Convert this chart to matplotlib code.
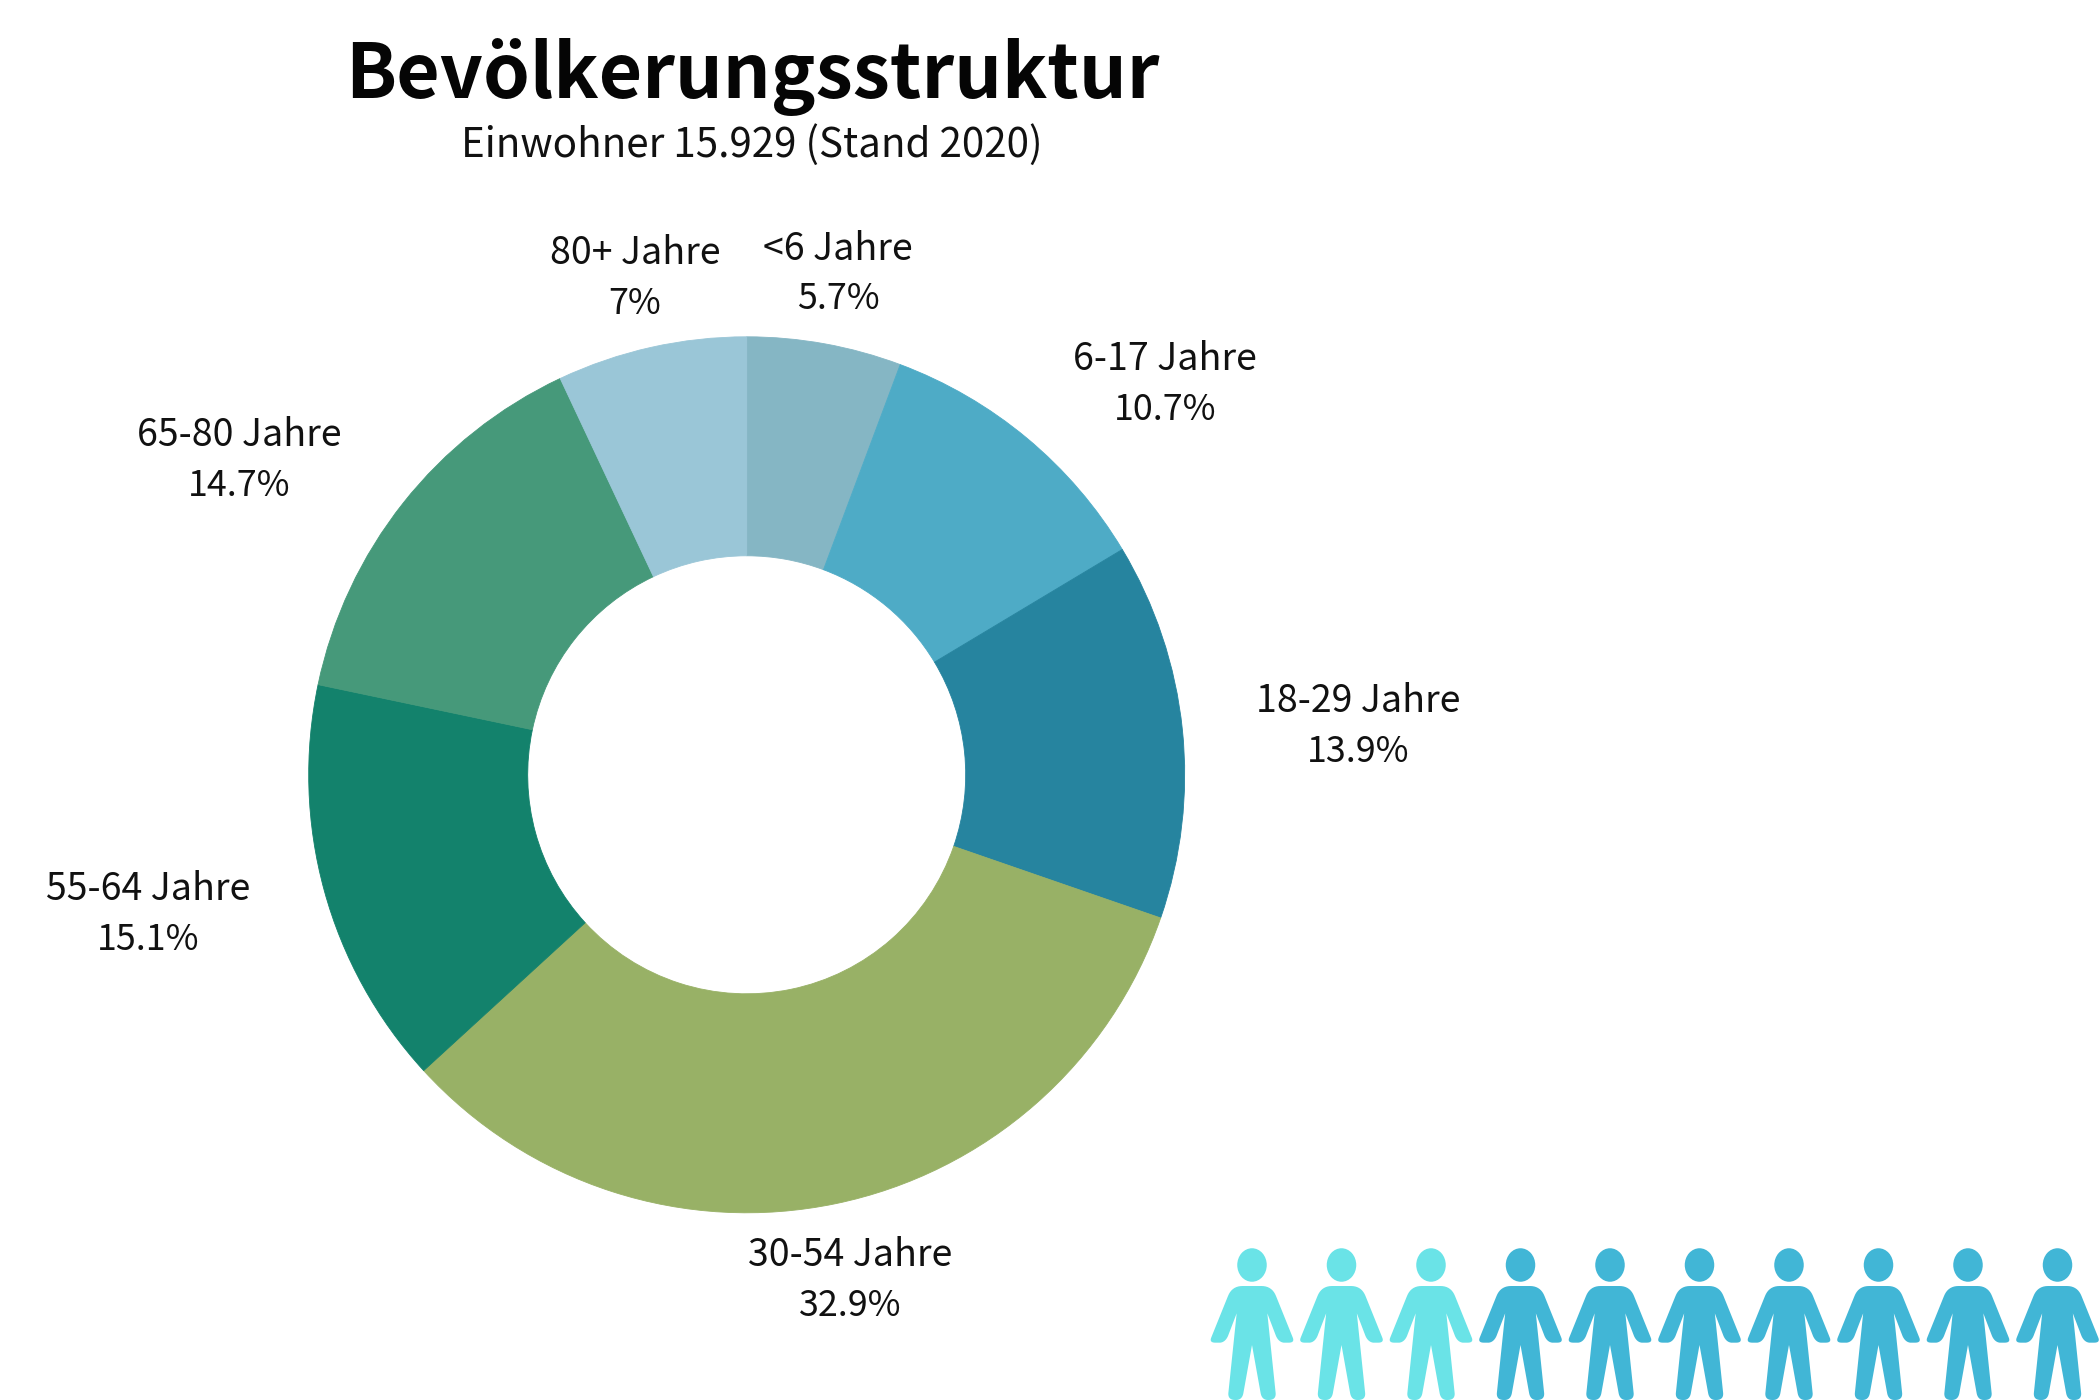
import numpy as np
import matplotlib
matplotlib.use("Agg")
import matplotlib.pyplot as plt
from matplotlib.patches import Polygon, Ellipse

plt.rcParams['font.family'] = ['Noto Sans CJK SC', 'DejaVu Sans']

W, H = 2100, 1400

categories = ['<6 Jahre', '6-17 Jahre', '18-29 Jahre', '30-54 Jahre',
              '55-64 Jahre', '65-80 Jahre', '80+ Jahre']
shares = [5.7, 10.7, 13.9, 32.9, 15.1, 14.7, 7]
share_labels = ['5.7%', '10.7%', '13.9%', '32.9%', '15.1%', '14.7%', '7%']
colors = ['#85B6C4', '#4EABC6', '#26849F', '#98B166', '#13826C', '#46997A', '#9AC6D7']
label_pos = [(838, 274), (1165, 385), (1358, 727), (850, 1281),
             (148, 915), (239, 461), (635, 279)]
title = 'Bevölkerungsstruktur'
subtitle = 'Einwohner 15.929 (Stand 2020)'
people_light = 3
people_dark = 7

fig = plt.figure(figsize=(W / 100, H / 100), dpi=100, facecolor='white')

# donut
cx, cy, R = 746.7, 774.8, 438.0
pie_ax = fig.add_axes([(cx - R) / W, 1 - (cy + R) / H, 2 * R / W, 2 * R / H])
wedges, _ = pie_ax.pie(shares, colors=colors, startangle=90, counterclock=False, radius=1.0,
                       wedgeprops=dict(width=0.5, linewidth=0.6))
for w in wedges:
    w.set_edgecolor(w.get_facecolor())
pie_ax.set_xlim(-1, 1)
pie_ax.set_ylim(-1, 1)
pie_ax.set_aspect('equal')
pie_ax.axis('off')

# overlay in pixel coordinates
ov = fig.add_axes([0, 0, 1, 1])
ov.set_xlim(0, W)
ov.set_ylim(H, 0)
ov.axis('off')
ov.patch.set_alpha(0)

ov.text(752, 77, title, ha='center', va='center', fontsize=54, fontweight='bold', color='#050505')
ov.text(752, 145, subtitle, ha='center', va='center', fontsize=29, color='#111111')

for cat, pct, (x, y) in zip(categories, share_labels, label_pos):
    ov.text(x, y - 25, cat, ha='center', va='center', fontsize=27, color='#111111')
    ov.text(x, y + 25, pct, ha='center', va='center', fontsize=25.8, color='#111111')


def quad(p0, c, p1, n=10):
    t = np.linspace(0, 1, n)[:, None]
    p0, c, p1 = map(np.array, (p0, c, p1))
    return (1 - t) ** 2 * p0 + 2 * t * (1 - t) * c + t ** 2 * p1


def person_outline():
    half = np.vstack([
        [(0, 168), (28, 168)],
        quad((28, 168), (60, 168), (72, 198)),
        quad((122, 322), (129, 338), (110, 338)),
        quad((95, 338), (80, 336), (72, 318)),
        [(46, 250)],
        quad((71, 490), (72, 510), (50, 510)),
        quad((48, 510), (30, 510), (26, 490)),
        [(0, 345)],
    ])
    half = half / np.array([3.0, 3.0])
    left = half[::-1] * np.array([-1, 1])
    return np.vstack([half, left[1:-1]])


outline = person_outline()
x0, spacing, ytop = 1252.0, 89.5, 1230.0
person_colors = ['#6AE3E7'] * people_light + ['#41B6D6'] * people_dark
for i, col in enumerate(person_colors):
    px = x0 + i * spacing
    ov.add_patch(Polygon(outline + np.array([px, ytop]), closed=True, fc=col, ec='none'))
    ov.add_patch(Ellipse((px, 1265), 29.5, 33.5, fc=col, ec='none'))

fig.savefig('out.png', dpi=100, facecolor='white')
